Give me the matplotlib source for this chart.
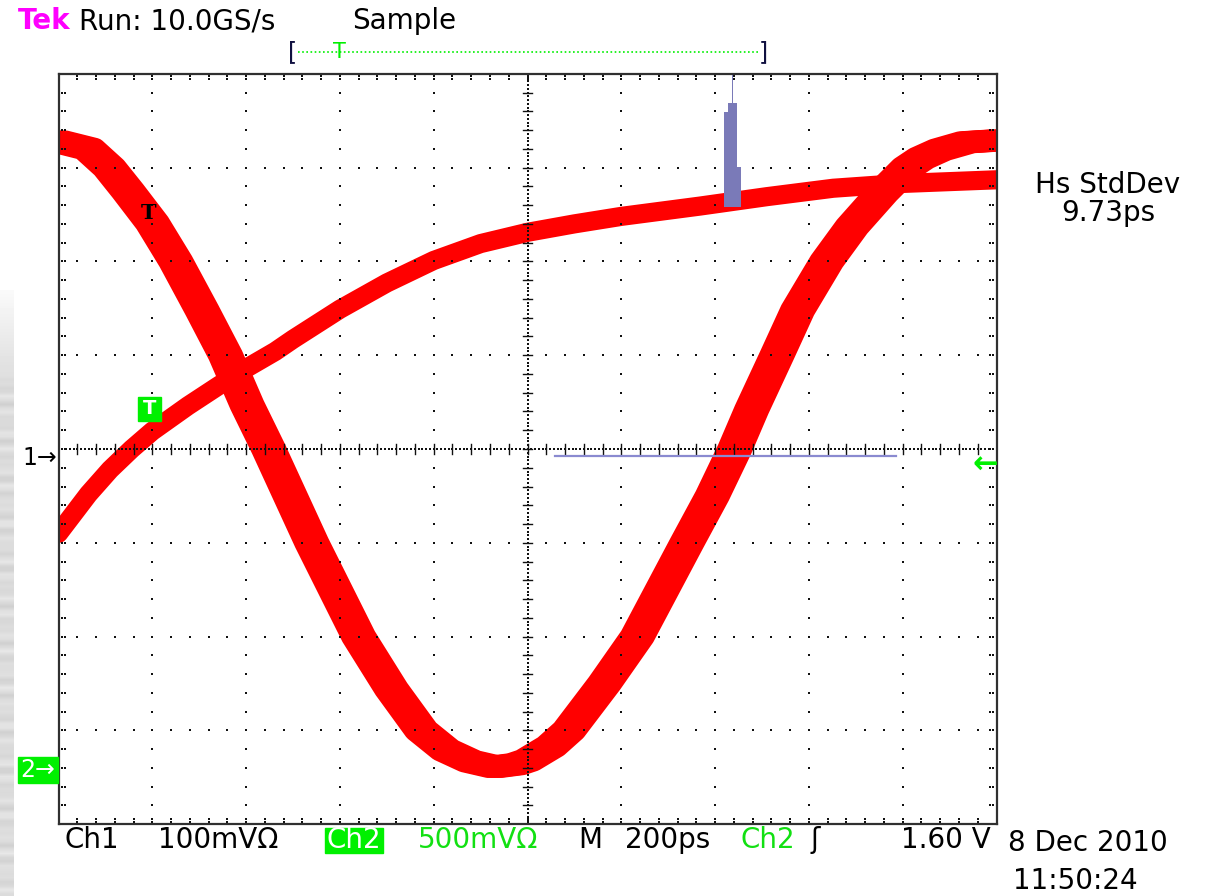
"""Tek scope screen: two persistence traces, jitter histogram, graticule."""

import numpy as np
import matplotlib

matplotlib.use("Agg")
import matplotlib.pyplot as plt  # noqa: E402
from matplotlib.lines import Line2D  # noqa: E402
from matplotlib.patches import Rectangle  # noqa: E402

W, H = 1205, 896

# trace band centres, in graticule divisions (x 0..10, y -4..4)
ch1_x = [0.00, 0.32, 0.55, 0.78, 1.00, 1.38, 1.70, 2.00, 2.31, 2.50,
         3.00, 3.50, 4.00, 4.50, 5.00, 5.50, 6.00, 6.84, 7.55, 8.26,
         8.97, 10.00]
ch1_y = [-0.90, -0.48, -0.22, 0.00, 0.19, 0.46, 0.67, 0.86, 1.04, 1.17,
         1.49, 1.77, 2.01, 2.19, 2.31, 2.40, 2.48, 2.59, 2.69, 2.78,
         2.83, 2.87]

ch2_x = [0.00, 0.32, 0.54, 0.74, 1.00, 1.25, 1.53, 1.78, 2.01, 2.24,
         2.47, 2.70, 3.20, 3.55, 3.87, 4.13, 4.39, 4.65, 4.88, 5.00,
         5.25, 5.44, 5.82, 6.17, 6.70, 6.97, 7.21, 7.39, 7.66, 7.88,
         8.19, 8.46, 8.78, 9.05, 9.20, 9.40, 9.68, 10.00]
ch2_y = [3.28, 3.20, 3.00, 2.75, 2.41, 2.00, 1.48, 1.00, 0.47, 0.00,
         -0.50, -1.00, -2.00, -2.56, -3.00, -3.21, -3.33, -3.39, -3.36,
         -3.32, -3.17, -3.00, -2.50, -2.00, -1.00, -0.50, 0.00, 0.42, 1.00,
         1.48, 2.00, 2.37, 2.73, 3.00, 3.10, 3.19, 3.27, 3.29]

# horizontal histogram (Hs) of the ch2 crossing time
hist_edges = [7.098, 7.141, 7.177, 7.194, 7.230, 7.273]
hist_heights = [1.013, 1.103, 1.404, 1.109, 0.427]
hist_base = 2.583
hist_window = [5.29, 8.93]
hist_level = -0.075

top_labels = [("Tek", 18, "#ff00ff"), ("Run: 10.0GS/s", 79, "black"),
              ("Sample", 352, "black")]
bottom_labels = [("Ch1", 65, "black"), ("100mV\u03a9", 158, "black"),
                 ("500mV\u03a9", 418, "#12e012"), ("M", 578, "black"),
                 ("200ps", 625, "black"), ("Ch2", 740, "#12e012"),
                 ("\u0283", 810, "black")]

GREEN = "#00f000"
FS = 20


def fx(x):
    return x / W


def fy(y):
    return 1 - y / H


fig = plt.figure(figsize=(W / 100, H / 100), dpi=100)
fig.patch.set_facecolor("white")

# faint photo texture down the left edge
bg = fig.add_axes([0, 0, 14 / W, 606 / H])
rows = np.arange(150)
tex = 0.86 + 0.05 * np.sin(rows * 1.7) * np.cos(rows * 0.31)
tex[-20:] = np.linspace(tex[-21], 0.98, 20)
bg.imshow(np.repeat(tex[::-1, None], 4, axis=1), cmap="gray", vmin=0,
          vmax=1, aspect="auto", interpolation="bilinear")
bg.set_axis_off()

ax = fig.add_axes([58.5 / W, 1 - 824.2 / H, 938 / W, 750.4 / H])
ax.set_xlim(0, 10)
ax.set_ylim(-4, 4)
ax.set_xticks([])
ax.set_yticks([])
for sp in ax.spines.values():
    sp.set_color("#303030")
    sp.set_linewidth(1.6)

# persistence bands
ax.plot(ch1_x, ch1_y, color="red", lw=13.8, solid_joinstyle="round",
        solid_capstyle="round", zorder=1)
for dx in (-0.07, -0.035, 0.0, 0.035, 0.07):
    ax.plot(np.array(ch2_x) + dx, ch2_y, color="red", lw=15.8,
            solid_joinstyle="round", solid_capstyle="round", zorder=1)

# graticule
dot = dict(marker="s", s=2.2, c="#111111", linewidths=0, zorder=2)
minor = np.round(np.arange(0.2, 10.0, 0.2), 3)
minor_y = np.round(np.arange(-3.8, 4.0, 0.2), 3)
for gx in [1, 2, 3, 4, 6, 7, 8, 9]:
    ax.scatter(np.full_like(minor_y, gx), minor_y, **dot)
for gy in [-3, -2, -1, 1, 2, 3]:
    ax.scatter(minor, np.full_like(minor, gy), **dot)
dense_x = np.arange(0.0, 10.0, 0.04)
dense_y = np.arange(-4.0, 4.0, 0.04)
ax.scatter(dense_x, np.zeros_like(dense_x), **{**dot, "s": 1.6})
ax.scatter(np.full_like(dense_y, 5.0), dense_y, **{**dot, "s": 1.6})
for t in minor:
    ax.plot([t, t], [-0.05, 0.05], color="#111111", lw=1.0, zorder=2)
for t in minor_y:
    ax.plot([4.95, 5.05], [t, t], color="#111111", lw=1.0, zorder=2)
# border ticks
for off in (0.035, 0.07):
    ax.scatter(np.full_like(minor_y, off), minor_y, **dot)
    ax.scatter(np.full_like(minor_y, 10 - off), minor_y, **dot)
    ax.scatter(minor, np.full_like(minor, -4 + off * 0.8), **dot)
    ax.scatter(minor, np.full_like(minor, 4 - off * 0.8), **dot)

# histogram and its window
ax.bar(hist_edges[:-1], hist_heights, width=np.diff(hist_edges),
       bottom=hist_base, align="edge", color="#7a7ab8", linewidth=0,
       zorder=3, clip_on=False)
ax.plot(hist_window, [hist_level, hist_level], color="#8a8ad0", lw=1.6,
        zorder=3)

# on-trace trigger markers
ax.text(0.96, 2.52, "T", color="black", fontsize=15, fontweight="bold",
        family="DejaVu Serif", ha="center", va="center", zorder=4)
fig.patches.append(Rectangle((fx(138), fy(421)), 23 / W, 24 / H,
                             transform=fig.transFigure, color=GREEN,
                             zorder=5))
fig.text(fx(149.5), fy(408), "T", color="white", fontsize=14,
         fontweight="bold", ha="center", va="center", zorder=6)

# top status line
for s, x, c in top_labels:
    fig.text(fx(x), fy(21), s, color=c, fontsize=FS, ha="left",
             va="center", fontweight="bold" if s == "Tek" else "normal")
fig.text(fx(293), fy(52), "[", color="#101040", fontsize=17, ha="center",
         va="center")
fig.text(fx(763), fy(52), "]", color="#101040", fontsize=17, ha="center",
         va="center")
fig.add_artist(Line2D([fx(298), fx(758)], [fy(52), fy(52)], color=GREEN,
                      lw=1.2, ls=(0, (1, 1.5)), transform=fig.transFigure))
fig.text(fx(339), fy(52), "T", color=GREEN, fontsize=15, ha="center",
         va="center")

# channel reference markers
fig.text(fx(57), fy(458), "1\u2192", color="black", fontsize=17,
         ha="right", va="center")
fig.patches.append(Rectangle((fx(18), fy(783)), 40 / W, 26 / H,
                             transform=fig.transFigure, color=GREEN))
fig.text(fx(38), fy(770), "2\u2192", color="white", fontsize=17,
         ha="center", va="center")
fig.text(fx(985), fy(465), "\u2190", color=GREEN, fontsize=22,
         fontweight="bold", ha="center", va="center")

# bottom settings line
for s, x, c in bottom_labels:
    fig.text(fx(x), fy(840), s, color=c, fontsize=FS, ha="left",
             va="center")
fig.patches.append(Rectangle((fx(325), fy(853)), 58 / W, 25 / H,
                             transform=fig.transFigure, color=GREEN))
fig.text(fx(354), fy(840), "Ch2", color="white", fontsize=FS,
         ha="center", va="center")
fig.text(fx(991), fy(840), "1.60 V", color="black", fontsize=FS,
         ha="right", va="center")
fig.text(fx(1008), fy(843), "8 Dec 2010", color="black", fontsize=FS,
         ha="left", va="center")
fig.text(fx(1013), fy(881), "11:50:24", color="black", fontsize=FS,
         ha="left", va="center")

# measurement readout
fig.text(fx(1108), fy(185), "Hs StdDev", color="black", fontsize=FS,
         ha="center", va="center")
fig.text(fx(1108), fy(213), "9.73ps", color="black", fontsize=FS,
         ha="center", va="center")

fig.savefig("out.png", dpi=100)
plt.close(fig)
